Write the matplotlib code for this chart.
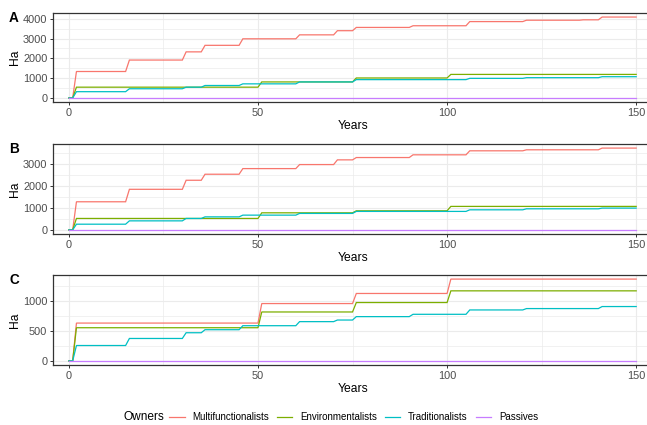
import numpy as np
import matplotlib
matplotlib.use("Agg")
import matplotlib.pyplot as plt
from matplotlib.ticker import MultipleLocator
from matplotlib.lines import Line2D

plt.rcParams["font.family"] = ["Liberation Sans", "DejaVu Sans"]

# plateau start / end years (values change over one year between plateaus)
step_start = [0, 2, 16, 31, 36, 46, 51, 61, 71, 76, 91, 101, 106, 121, 136, 141]
step_end = [1, 15, 30, 35, 45, 50, 60, 70, 75, 90, 100, 105, 120, 135, 140, 150]

owners = ["Multifunctionalists", "Environmentalists", "Traditionalists", "Passives"]
colors = ["#F8766D", "#7CAE00", "#00BFC4", "#C77CFF"]

# panel A
a_multi = [0, 1337, 1916, 2330, 2660, 2990, 2990, 3190, 3400, 3565, 3650, 3650, 3860, 3930, 3950, 4090]
a_env = [0, 545, 545, 545, 545, 545, 810, 810, 810, 1010, 1010, 1190, 1190, 1190, 1190, 1190]
a_trad = [0, 317, 465, 545, 630, 713, 713, 810, 810, 926, 926, 926, 991, 1025, 1025, 1074]
a_pass = [0] * 16

# panel B
b_multi = [0, 1284, 1853, 2266, 2541, 2798, 2798, 2982, 3197, 3303, 3427, 3427, 3610, 3656, 3656, 3734]
b_env = [0, 523, 523, 523, 523, 523, 780, 780, 780, 872, 872, 1073, 1073, 1073, 1073, 1073]
b_trad = [0, 261, 413, 523, 596, 674, 674, 752, 752, 844, 844, 844, 917, 963, 963, 995]
b_pass = [0] * 16

# panel C
c_multi = [0, 634, 634, 634, 634, 634, 961, 961, 961, 1130, 1130, 1371, 1371, 1371, 1371, 1371]
c_env = [0, 556, 556, 556, 556, 556, 820, 820, 820, 978, 978, 1174, 1174, 1174, 1174, 1174]
c_trad = [0, 258, 376, 472, 523, 590, 590, 658, 685, 742, 781, 781, 854, 877, 877, 911]
c_pass = [0] * 16

panels = [
    ("A", [a_multi, a_env, a_trad, a_pass], 1000),
    ("B", [b_multi, b_env, b_trad, b_pass], 1000),
    ("C", [c_multi, c_env, c_trad, c_pass], 500),
]

W, H = 647, 425
fig = plt.figure(figsize=(W / 100, H / 100), dpi=100)

left_px, right_px = 53, 660
tops = [13, 144, 275]
bottoms = [102, 234, 365]
grid_col = "#EBEBEB"
dark = "#333333"

xs = np.ravel(np.column_stack([step_start, step_end]))

for (letter, series, ymaj), top, bot in zip(panels, tops, bottoms):
    ax = fig.add_axes([left_px / W, 1 - bot / H, (right_px - left_px) / W, (bot - top) / H])
    for vals, col in zip(series, colors):
        ys = np.repeat(vals, 2)
        ax.plot(xs, ys, color=col, lw=0.9, solid_joinstyle="miter")

    ymax = max(max(s) for s in series)
    ax.set_ylim(-0.05 * ymax, 1.05 * ymax)
    ax.set_xlim(-4.2, 156.3)

    ax.xaxis.set_major_locator(MultipleLocator(50))
    ax.xaxis.set_minor_locator(MultipleLocator(25))
    ax.yaxis.set_major_locator(MultipleLocator(ymaj))
    ax.yaxis.set_minor_locator(MultipleLocator(ymaj / 2))
    ax.grid(which="major", color=grid_col, lw=0.8)
    ax.grid(which="minor", color=grid_col, lw=0.5)
    ax.set_axisbelow(True)

    for sp in ax.spines.values():
        sp.set_color(dark)
        sp.set_linewidth(0.9)

    ax.tick_params(which="major", length=2.5, width=0.7, color=dark,
                   labelsize=7.9, labelcolor="#4D4D4D", pad=1.5)
    ax.tick_params(which="minor", length=0)

    ax.set_xlabel("Years", fontsize=8.7, va="center")
    ax.xaxis.set_label_coords(0.494, -24 / (bot - top))
    ax.set_ylabel("Ha", fontsize=8.7, va="center")
    ax.yaxis.set_label_coords((15 - left_px) / (right_px - left_px), 0.5)

    fig.text(9 / W, 1 - (top + 5) / H, letter, fontsize=9.8, fontweight="bold",
             ha="left", va="center")

# legend
fig.text(124 / W, 1 - 417 / H, "Owners", fontsize=8.6, ha="left", va="center")
handles = [Line2D([], [], color=c, lw=0.9) for c in colors]
fig.legend(handles, owners, ncol=4, loc="center left",
           bbox_to_anchor=(169 / W, 1 - 417 / H), frameon=False, fontsize=7,
           handlelength=1.6, handletextpad=0.8, columnspacing=0.8,
           borderpad=0, borderaxespad=0)

fig.savefig("out.png", dpi=100)
